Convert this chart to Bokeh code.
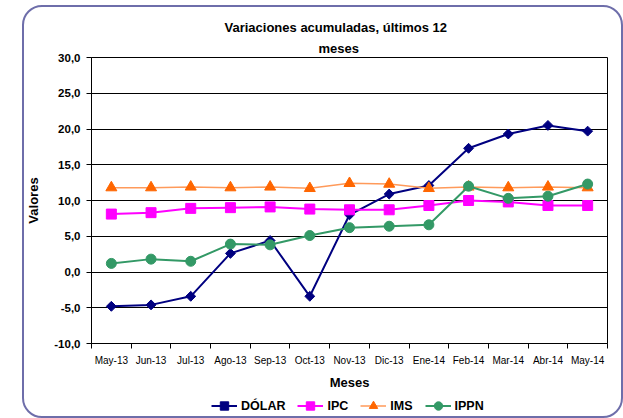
import numpy as np
from bokeh.plotting import figure
from bokeh.layouts import column
from bokeh.models import Range1d, FixedTicker, Legend, LegendItem, Title, InlineStyleSheet
from bokeh.embed import file_html
from bokeh.resources import INLINE

meses = ["May-13", "Jun-13", "Jul-13", "Ago-13", "Sep-13", "Oct-13", "Nov-13",
         "Dic-13", "Ene-14", "Feb-14", "Mar-14", "Abr-14", "May-14"]
dolar = [-4.8, -4.6, -3.4, 2.6, 4.4, -3.4, 8.0, 10.9, 12.1, 17.3, 19.3, 20.5, 19.7]
ipc = [8.1, 8.3, 8.9, 9.0, 9.1, 8.8, 8.7, 8.7, 9.3, 10.0, 9.8, 9.3, 9.3]
ims = [11.8, 11.8, 11.9, 11.8, 11.9, 11.7, 12.4, 12.3, 11.7, 11.9, 11.8, 11.9, 11.8]
ippn = [1.2, 1.8, 1.5, 3.9, 3.8, 5.1, 6.2, 6.4, 6.6, 12.0, 10.3, 10.6, 12.3]
y_ticks = [-10, -5, 0, 5, 10, 15, 20, 25, 30]
y_tick_labels = ["-10,0", "-5,0", "0,0", "5,0", "10,0", "15,0", "20,0", "25,0", "30,0"]
title_lines = ["Variaciones acumuladas, últimos 12", "meses"]

FONT = "Liberation Sans"
n = len(meses)
xs = [i + 0.5 for i in range(n)]

css = """
:host::after {
  content: ""; position: absolute; left: 22px; top: 5px; width: 601px; height: 413px;
  border: 2px solid #6E6EAA; border-radius: 20px; box-sizing: border-box;
  pointer-events: none; z-index: 10;
}
"""

p = figure(width=623, height=393, output_backend="svg", toolbar_location=None,
           x_range=Range1d(0, n), y_range=Range1d(y_ticks[0], y_ticks[-1]),
           min_border_left=91, min_border_right=16, min_border_top=57, min_border_bottom=50)
p.title.text = ""
p.title.visible = False
p.background_fill_color = "white"
p.border_fill_color = "white"
p.outline_line_color = "#000000"
p.outline_line_width = 1

# titles (first added sits closest to the frame)
p.add_layout(Title(text=title_lines[1], align="left", offset=227, standoff=4,
                   text_font=FONT, text_font_size="13px", text_font_style="bold",
                   text_color="#000000"), "above")
p.add_layout(Title(text=title_lines[0], align="left", offset=133, standoff=4,
                   text_font=FONT, text_font_size="13px", text_font_style="bold",
                   text_color="#000000"), "above")

# axes
p.xaxis.ticker = FixedTicker(ticks=xs, minor_ticks=list(range(n + 1)))
p.xaxis.major_label_overrides = {x: m for x, m in zip(xs, meses)}
p.xaxis.major_tick_line_color = None
p.xaxis.minor_tick_line_color = "#000000"
p.xaxis.minor_tick_out = 5
p.xaxis.minor_tick_in = 0
p.xaxis.major_label_text_font = FONT
p.xaxis.major_label_text_font_size = "10px"
p.xaxis.major_label_text_color = "#000000"
p.xaxis.major_label_standoff = 5
p.xaxis.axis_label = "Meses"
p.xaxis.axis_label_text_font = FONT
p.xaxis.axis_label_text_font_size = "13px"
p.xaxis.axis_label_text_font_style = "bold"
p.xaxis.axis_label_text_color = "#000000"
p.xaxis.axis_label_standoff = 6
p.xaxis.axis_line_color = "#000000"

p.yaxis.ticker = FixedTicker(ticks=y_ticks)
p.yaxis.major_label_overrides = {t: l for t, l in zip(y_ticks, y_tick_labels)}
p.yaxis.major_tick_out = 5
p.yaxis.major_tick_in = 0
p.yaxis.minor_tick_line_color = None
p.yaxis.major_tick_line_color = "#000000"
p.yaxis.major_label_text_font = FONT
p.yaxis.major_label_text_font_size = "11.5px"
p.yaxis.major_label_text_font_style = "bold"
p.yaxis.major_label_text_color = "#000000"
p.yaxis.major_label_standoff = 6
p.yaxis.axis_label = "Valores"
p.yaxis.axis_label_text_font = FONT
p.yaxis.axis_label_text_font_size = "13px"
p.yaxis.axis_label_text_font_style = "bold"
p.yaxis.axis_label_text_color = "#000000"
p.yaxis.axis_label_standoff = 10
p.yaxis.axis_line_color = "#000000"

p.xgrid.grid_line_color = None
p.ygrid.ticker = FixedTicker(ticks=y_ticks)
p.ygrid.grid_line_color = "#000000"
p.ygrid.grid_line_width = 1

series = [
    ("DÓLAR", dolar, "#000080", "#000080", "square", 7, np.pi / 4, 2),
    ("IPC", ipc, "#FF00FF", "#FF00FF", "square", 10, 0, 2),
    ("IMS", ims, "#FF9A5A", "#FF6600", "triangle", 11, 0, 1.5),
    ("IPPN", ippn, "#339966", "#339966", "circle", 10, 0, 2),
]

# legend strip (separate figure below the chart)
pl = figure(width=623, height=25, output_backend="svg", toolbar_location=None,
            x_axis_location=None, y_axis_location=None,
            min_border_left=0, min_border_right=0, min_border_top=0, min_border_bottom=0)
pl.grid.visible = False
pl.outline_line_color = None
pl.background_fill_color = "white"
pl.border_fill_color = "white"

items = []
for name, vals, lc, mc, mk, sz, ang, lw in series:
    p.line(xs, vals, line_color=lc, line_width=lw)
    p.scatter(xs, vals, marker=mk, size=sz, angle=ang, fill_color=mc, line_color=mc)
    lr = pl.line(xs, vals, line_color=lc, line_width=lw, visible=False)
    sr = pl.scatter(xs, vals, marker=mk, size=sz, angle=ang, fill_color=mc, line_color=mc,
                    visible=False)
    items.append(LegendItem(label=name, renderers=[lr, sr]))

legend = Legend(items=items, orientation="horizontal", location=(120, 2),
                label_text_font=FONT, label_text_font_size="12.5px", label_text_font_style="bold",
                label_text_color="#000000",
                glyph_width=26, glyph_height=21, spacing=12, padding=0, margin=0,
                label_standoff=4, border_line_color=None, background_fill_alpha=0)
pl.add_layout(legend, "center")

layout = column(p, pl, spacing=0, stylesheets=[InlineStyleSheet(css=css)])

open("out.html", "w").write(file_html(layout, INLINE))
